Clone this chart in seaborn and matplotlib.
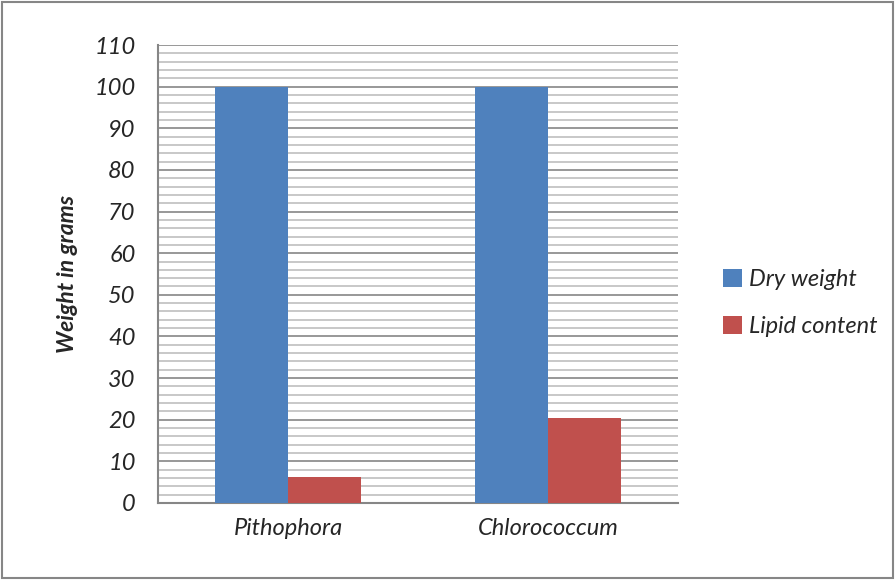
import numpy as np
import pandas as pd
import matplotlib
matplotlib.use("Agg")
import matplotlib.pyplot as plt
import seaborn as sns
from matplotlib.ticker import MultipleLocator
from matplotlib.patches import Rectangle

# data
species = ["Pithophora", "Chlorococcum"]
dry_weight = [100, 100]
lipid_content = [6.2, 20.4]
series_names = ["Dry weight", "Lipid content"]
colors = ["#4F81BD", "#C0504D"]

df = pd.DataFrame({
    "Species": species * 2,
    "Value": dry_weight + lipid_content,
    "Series": [series_names[0]] * 2 + [series_names[1]] * 2,
})

sns.set_style("white")
plt.rcParams["font.family"] = ["Lato", "DejaVu Sans"]

fig = plt.figure(figsize=(8.96, 5.8), dpi=100)
ax = fig.add_axes([0.1763, 0.1328, 0.5804, 0.7896])

sns.barplot(data=df, x="Species", y="Value", hue="Series",
            palette=colors, width=0.565, saturation=1, linewidth=0,
            ax=ax, zorder=3)

ax.set_ylim(0, 110)
ax.set_xlim(-0.5, 1.5)
ax.yaxis.set_major_locator(MultipleLocator(10))
ax.yaxis.set_minor_locator(MultipleLocator(2))
ax.grid(which="major", axis="y", color="#868686", linewidth=1.2, zorder=0)
ax.grid(which="minor", axis="y", color="#BFBFBF", linewidth=1.2, zorder=0)
ax.set_axisbelow(True)

for s in ["top", "right"]:
    ax.spines[s].set_visible(False)
for s in ["left", "bottom"]:
    ax.spines[s].set_color("#868686")
    ax.spines[s].set_linewidth(1.5)

ax.tick_params(axis="y", which="major", length=7, width=1.2, color="#868686",
               direction="out", labelsize=17, pad=9)
ax.tick_params(axis="y", which="minor", length=0)
ax.tick_params(axis="x", length=0, labelsize=17, pad=11)
for lab in ax.get_yticklabels() + ax.get_xticklabels():
    lab.set_fontstyle("italic")

ax.set_xlabel("")
ax.set_ylabel("Weight in grams", fontsize=16.5, fontweight="bold",
              fontstyle="italic", labelpad=12)

ax.legend(loc="center left", bbox_to_anchor=(1.045, 0.437), frameon=False,
          prop={"style": "italic", "size": 17}, handlelength=0.8,
          handleheight=0.8, handletextpad=0.3, labelspacing=1.1)

fig.patches.append(Rectangle((0.002, 0.004), 0.995, 0.992, transform=fig.transFigure,
                             fill=False, edgecolor="#868686", linewidth=1.5))

fig.savefig("out.png", dpi=100)
